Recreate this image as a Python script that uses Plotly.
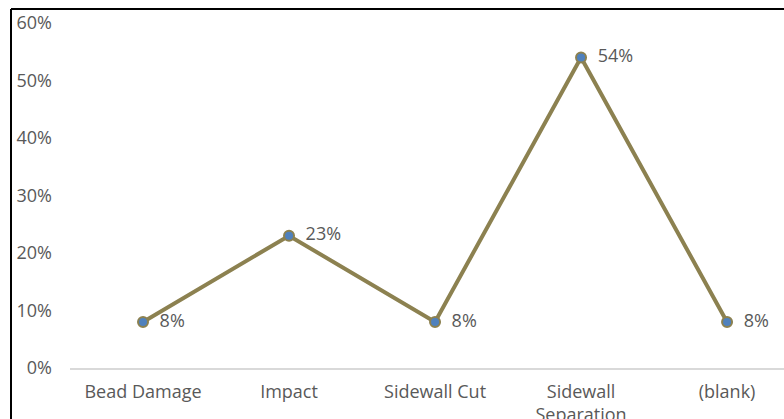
import plotly.graph_objects as go

categories = ["Bead Damage", "Impact", "Sidewall Cut", "Sidewall<br>Separation", "(blank)"]
values = [0.08, 0.23, 0.08, 0.54, 0.08]
labels = ["8%", "23%", "8%", "54%", "8%"]
y_ticks = [0, 0.1, 0.2, 0.3, 0.4, 0.5, 0.6]
y_tick_text = ["0%", "10%", "20%", "30%", "40%", "50%", "60%"]

W, H = 784, 419
ml, mr, mt, mb = 70, 0, 23, 51
FS = 18

fig = go.Figure()
fig.add_trace(go.Scatter(
    x=list(range(len(categories))), y=values,
    mode="lines+markers+text",
    text=["  " + t for t in labels],
    textposition="middle right",
    textfont=dict(family="Open Sans", size=FS, color="#595959"),
    line=dict(color="#8c8150", width=4),
    marker=dict(size=10, color="#4f81bd", line=dict(color="#8c8150", width=2)),
    cliponaxis=False,
    showlegend=False,
))

pw = W - ml - mr
ph = H - mt - mb
def px_x(p):
    return (p - ml) / pw
def px_y(p):
    return (H - mb - p) / ph

fig.add_shape(type="line", xref="paper", yref="paper",
              x0=px_x(11), x1=px_x(800), y0=px_y(9), y1=px_y(9),
              line=dict(color="#000000", width=2))
fig.add_shape(type="line", xref="paper", yref="paper",
              x0=px_x(11), x1=px_x(11), y0=px_y(9), y1=px_y(430),
              line=dict(color="#000000", width=2))

fig.update_layout(
    width=W, height=H,
    margin=dict(l=ml, r=mr, t=mt, b=mb, autoexpand=False),
    paper_bgcolor="white", plot_bgcolor="white",
    font=dict(family="Open Sans", size=FS, color="#595959"),
    xaxis=dict(
        range=[-0.5, 4.39], automargin=False,
        tickmode="array", tickvals=list(range(len(categories))), ticktext=categories,
        showgrid=False, zeroline=False,
        showline=True, linecolor="#d9d9d9", linewidth=2,
        ticks="", ticklabelstandoff=6,
        tickfont=dict(family="Open Sans", size=FS, color="#595959"),
    ),
    yaxis=dict(
        range=[0, 0.6], automargin=False,
        tickmode="array", tickvals=y_ticks, ticktext=y_tick_text,
        showgrid=False, zeroline=False, showline=False,
        ticks="", ticklabelstandoff=17,
        tickfont=dict(family="Open Sans", size=FS, color="#595959"),
    ),
)

fig.write_html("out.html")
